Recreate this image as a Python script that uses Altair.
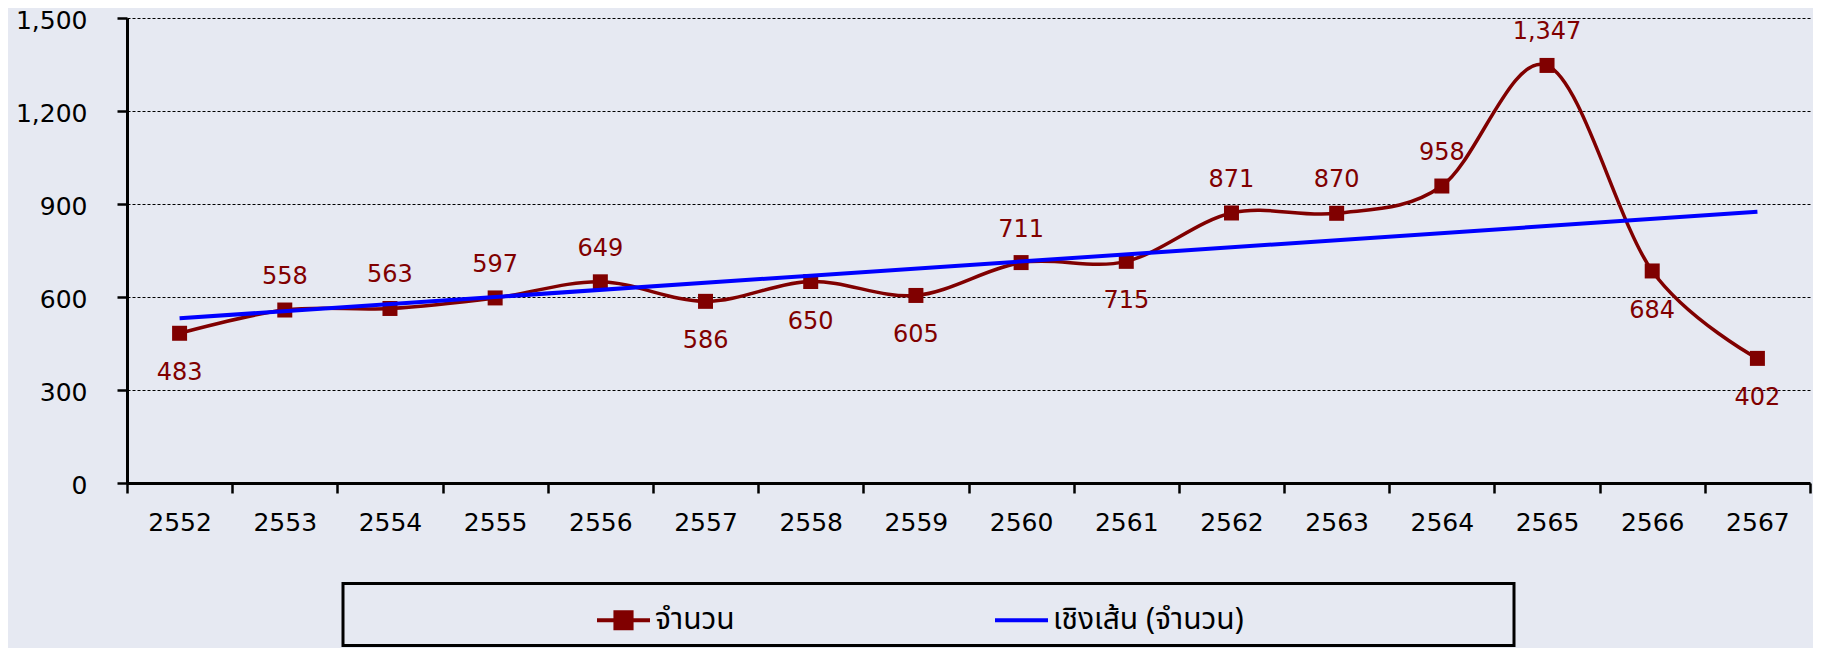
import altair as alt
import pandas as pd

# ---- data ----
years = list(range(2552, 2568))
values = [483, 558, 563, 597, 649, 586, 650, 605, 711, 715, 871, 870, 958, 1347, 684, 402]
y_ticks = [0, 300, 600, 900, 1200, 1500]
x_edges = [2551.5 + i for i in range(17)]
series_names = ["จำนวน", "เชิงเส้น (จำนวน)"]
labels_below = [2552, 2557, 2558, 2559, 2561, 2566, 2567]

df = pd.DataFrame({"year": years, "value": values})
df["pos"] = ["below" if y in labels_below else "above" for y in years]
legend_df = pd.DataFrame({"series": series_names})

W, H = 1683, 465
BAND = W / 16
RED = "#800000"
BLUE = "#0000ff"
NUM_FONT = "DejaVu Sans"
THAI_FONT = "Noto Sans Thai, Tahoma, Noto Sans, DejaVu Sans, sans-serif"

x_scale = alt.Scale(domain=[2551.5, 2567.5], nice=False, zero=False)
y_scale = alt.Scale(domain=[0, 1500], nice=False, zero=True)

x_axis = alt.Axis(
    values=x_edges,
    labelExpr="datum.value < 2567 ? format(datum.value + 0.5, 'd') : ''",
    labelOffset=BAND / 2,
    labelFlush=False,
    labelOverlap=False,
    labelBaseline="middle",
    labelPadding=29,
    labelFont=NUM_FONT,
    labelFontSize=25,
    labelColor="black",
    tickSize=10,
    tickWidth=2.5,
    tickColor="black",
    domainColor="black",
    domainWidth=3,
    grid=False,
    title=None,
)
y_axis = alt.Axis(
    values=y_ticks,
    format=",.0f",
    labelFont=NUM_FONT,
    labelFontSize=25,
    labelColor="black",
    labelPadding=30,
    labelOffset=2,
    labelFlush=False,
    tickSize=10,
    tickWidth=2.5,
    tickColor="black",
    domainColor="black",
    domainWidth=3,
    grid=True,
    gridColor="black",
    gridWidth=1,
    gridDash=[3, 2],
    title=None,
)

X = alt.X("year:Q", scale=x_scale, axis=x_axis)
Y = alt.Y("value:Q", scale=y_scale, axis=y_axis)

base = alt.Chart(df)

line = base.mark_line(color=RED, strokeWidth=3.5, interpolate="cardinal").encode(x=X, y=Y)
points = base.mark_square(color=RED, size=225, opacity=1).encode(x="year:Q", y="value:Q")
trend = (
    base.transform_regression("year", "value")
    .mark_line(color=BLUE, strokeWidth=4)
    .encode(x="year:Q", y="value:Q")
)
lab_above = (
    base.transform_filter(alt.datum.pos == "above")
    .mark_text(dy=-33, font=NUM_FONT, fontSize=24, color=RED, baseline="middle")
    .encode(x="year:Q", y="value:Q", text=alt.Text("value:Q", format=","))
)
lab_below = (
    base.transform_filter(alt.datum.pos == "below")
    .mark_text(dy=40, font=NUM_FONT, fontSize=24, color=RED, baseline="middle")
    .encode(x="year:Q", y="value:Q", text=alt.Text("value:Q", format=","))
)

sym_series = "M-1,-0.08H-0.38V-0.38H0.38V-0.08H1V0.08H0.38V0.38H-0.38V0.08H-1Z"
sym_trend = "M-1,-0.08H1V0.08H-1Z"

leg = alt.Legend(
    orient="none",
    legendX=216,
    legendY=565.5,
    direction="horizontal",
    title="\u2800" * 16,
    titleOrient="right",
    titleFont=NUM_FONT,
    titleFontSize=20,
    titlePadding=10,
    titleLimit=2000,
    padding=10,
    symbolOffset=244,
    symbolSize=2809,
    symbolOpacity=1,
    symbolStrokeWidth=0,
    labelFont=THAI_FONT,
    labelFontSize=30,
    labelColor="black",
    labelOffset=5,
    labelLimit=500,
    columnPadding=16,
)

legend_layer = (
    alt.Chart(legend_df)
    .mark_point(filled=True, opacity=0, size=2809)
    .encode(
        color=alt.Color("series:N", scale=alt.Scale(domain=series_names, range=[RED, BLUE]), legend=leg),
        shape=alt.Shape("series:N", scale=alt.Scale(domain=series_names, range=[sym_series, sym_trend]), legend=leg),
    )
)

chart = (
    alt.layer(line, points, trend, lab_above, lab_below, legend_layer)
    .properties(
        width=W,
        height=H,
        autosize=alt.AutoSizeParams(type="none"),
        padding={"left": 119, "top": 10, "right": 3, "bottom": 165},
        background="#e6e9f2",
    )
    .configure_view(stroke=None)
    .configure_legend(strokeColor="black", strokeWidth=3)
)

chart.save("out.html", embed_options={"renderer": "svg", "actions": False})
